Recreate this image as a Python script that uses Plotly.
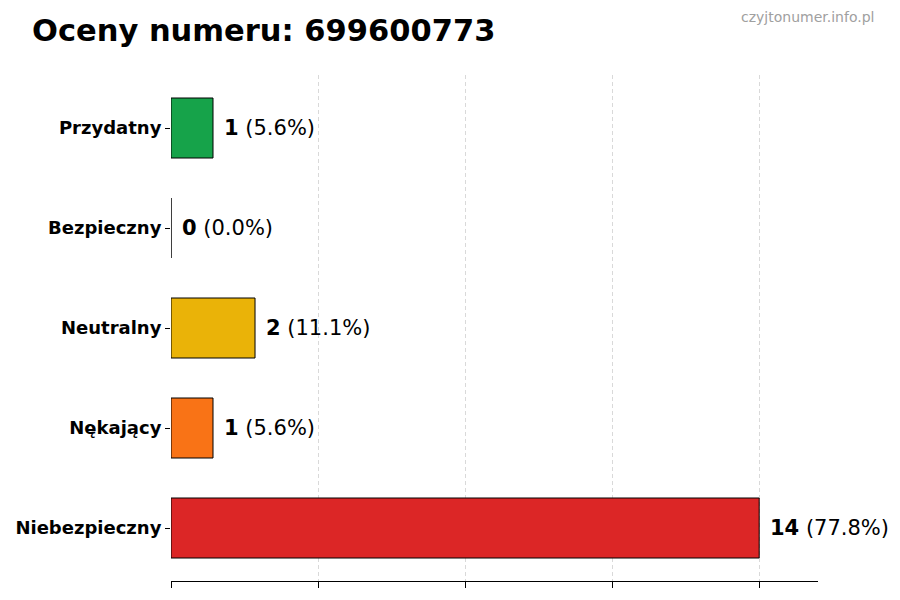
import plotly.graph_objects as go

categories = ["Niebezpieczny", "Nękający", "Neutralny", "Bezpieczny", "Przydatny"]
counts = [14, 1, 2, 0, 1]
percents = [77.8, 5.6, 11.1, 0.0, 5.6]
colors = ["#dc2626", "#f97316", "#eab308", "#16a34a", "#16a34a"]
x_ticks = [0, 3.5, 7, 10.5, 14]

# page has an 8px body margin, so figure coords are page coords minus 8
W, H = 900, 600
L, R, T, B = 163, 90, 67, 27
pw, ph = W - L - R, H - T - B

fig = go.Figure()
fig.add_trace(go.Bar(
    x=counts, y=list(range(len(categories))), orientation="h", width=0.6,
    marker=dict(color=colors, line=dict(color="black", width=1)),
    hoverinfo="skip",
))

# value labels right of each bar
for i, (c, p) in enumerate(zip(counts, percents)):
    fig.add_annotation(
        x=c + 0.22, y=i, xref="x", yref="y", xanchor="left", yanchor="middle",
        text=f"<b>{c}</b> ({p:.1f}%)", showarrow=False,
        font=dict(family="DejaVu Sans", size=21, color="black"),
    )

# watermark, top right
fig.add_annotation(
    x=(868 - L) / pw, y=1 + (T - 9) / ph, xref="paper", yref="paper",
    xanchor="right", yanchor="middle", text="czyjtonumer.info.pl",
    showarrow=False, font=dict(family="DejaVu Sans", size=14, color="#a0a0a0"),
)

fig.update_layout(
    width=W, height=H,
    margin=dict(l=L, r=R, t=T, b=B, autoexpand=False),
    plot_bgcolor="white", paper_bgcolor="white",
    showlegend=False,
    title=dict(text="<b>Oceny numeru: 699600773</b>", x=24 / W, xanchor="left",
               y=1 - 22 / H, yanchor="middle",
               font=dict(family="DejaVu Sans", size=30.5, color="black")),
)

fig.update_xaxes(
    range=[0, 15.4], tickvals=x_ticks, ticktext=[""] * len(x_ticks),
    showgrid=True, gridcolor="#d9d9d9", griddash="4px,3px", gridwidth=1,
    showline=True, linecolor="black", linewidth=1,
    ticks="outside", ticklen=6, tickcolor="black", zeroline=False,
    automargin=False,
)
fig.update_yaxes(
    range=[-0.53, 4.53], tickvals=list(range(len(categories))),
    ticktext=[f"<b>{c}</b>" for c in categories],
    showgrid=False, showline=False, zeroline=False,
    ticks="outside", ticklen=5, tickcolor="black",
    tickfont=dict(family="DejaVu Sans", size=18, color="black"),
    automargin=False,
)

fig.write_html("out.html")
